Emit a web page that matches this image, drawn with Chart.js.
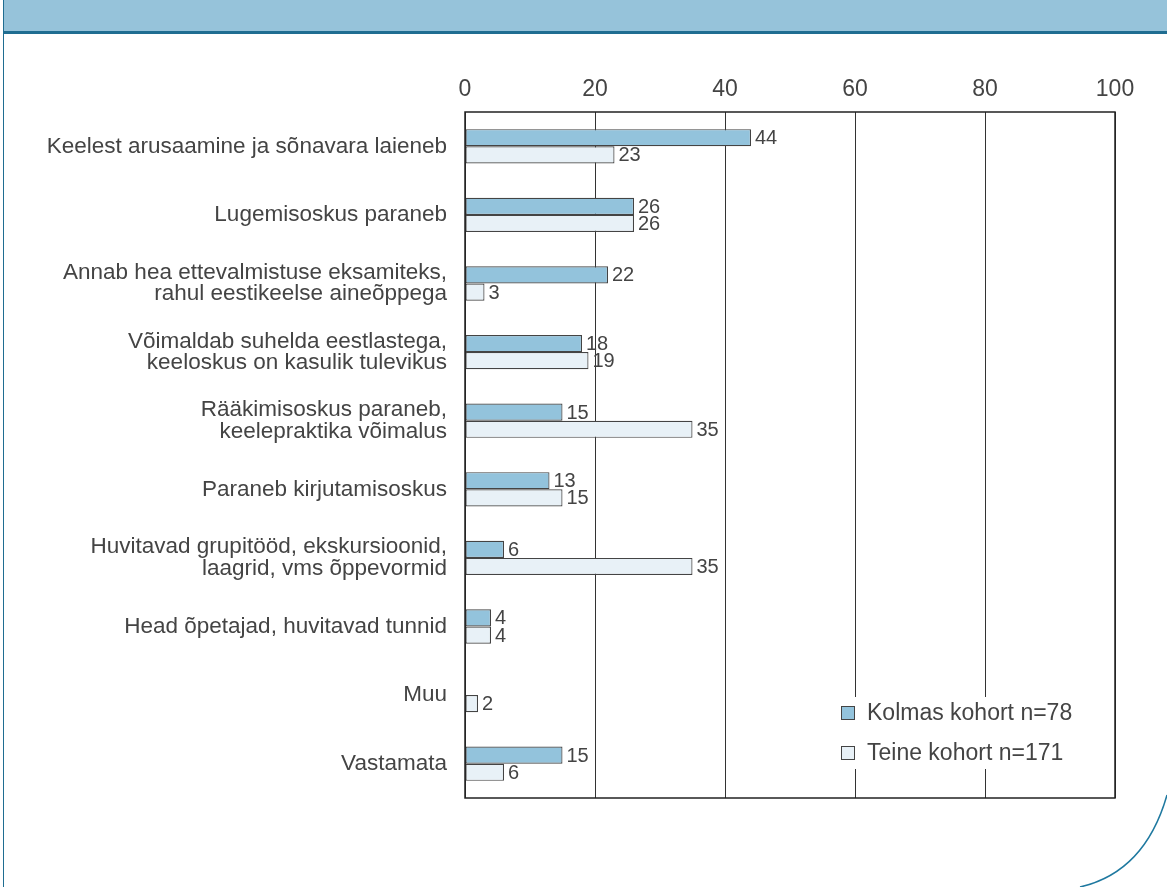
<!DOCTYPE html>
<html>
<head>
<meta charset="utf-8">
<script src="https://cdn.jsdelivr.net/npm/chart.js@4"></script>
<style>
  body { margin: 0; background: #fff; }
  #wrap { position: relative; width: 1167px; height: 887px; overflow: hidden; }
  #head { position: absolute; left: 4px; top: 0; width: 1163px; height: 31px; background: #96c3da; border-bottom: 3px solid #1f6d91; }
  #side { position: absolute; left: 3px; top: 0; width: 1px; height: 887px; background: #1f6d91; }
  #arc { position: absolute; left: 0; top: 0; }
  canvas { position: absolute; left: 0; top: 0; }
</style>
</head>
<body>
<div id="wrap">
  <div id="head"></div>
  <div id="side"></div>
  <svg id="arc" width="1167" height="887"><path d="M1167,795 Q1145,872 1080,887" fill="none" stroke="#1f79a0" stroke-width="1.5"/></svg>
  <canvas id="myChart" width="1167" height="887"></canvas>
</div>
<script>
var categories = [
  "Keelest arusaamine ja sõnavara laieneb",
  "Lugemisoskus paraneb",
  ["Annab hea ettevalmistuse eksamiteks,", "rahul eestikeelse aineõppega"],
  ["Võimaldab suhelda eestlastega,", "keeloskus on kasulik tulevikus"],
  ["Rääkimisoskus paraneb,", "keelepraktika võimalus"],
  "Paraneb kirjutamisoskus",
  ["Huvitavad grupitööd, ekskursioonid,", "laagrid, vms õppevormid"],
  "Head õpetajad, huvitavad tunnid",
  "Muu",
  "Vastamata"
];
var kolmas = [44, 26, 22, 18, 15, 13, 6, 4, null, 15];
var teine = [23, 26, 3, 19, 35, 15, 35, 4, 2, 6];
var seriesNames = ["Kolmas kohort n=78", "Teine kohort n=171"];
var xTicks = [0, 20, 40, 60, 80, 100];

var FONT = "'Liberation Sans', Arial, Helvetica, sans-serif";

var frame = {
  id: 'frame',
  afterDraw: function(chart) {
    var ctx = chart.ctx, a = chart.chartArea;
    ctx.save();
    ctx.strokeStyle = '#222';
    ctx.lineWidth = 1.5;
    ctx.strokeRect(a.left, a.top, a.right - a.left, a.bottom - a.top);

    // value labels
    ctx.fillStyle = '#444';
    ctx.font = '20px ' + FONT;
    ctx.textBaseline = 'middle';
    ctx.textAlign = 'left';
    chart.data.datasets.forEach(function(ds, i) {
      chart.getDatasetMeta(i).data.forEach(function(bar, j) {
        if (ds.data[j] == null) return;
        ctx.fillText(ds.data[j], bar.x + 4, bar.y + 1);
      });
    });

    // legend inside plot
    ctx.fillStyle = '#fff';
    ctx.fillRect(836, 697, 250, 72);
    ctx.font = '23px ' + FONT;
    chart.data.datasets.forEach(function(ds, i) {
      var y = 713 + i * 40;
      ctx.fillStyle = ds.backgroundColor;
      ctx.fillRect(841, y - 7, 14, 14);
      ctx.strokeStyle = '#444';
      ctx.lineWidth = 1;
      ctx.strokeRect(841.5, y - 6.5, 13, 13);
      ctx.fillStyle = '#444';
      ctx.fillText(ds.label, 867, y + 1);
    });
    ctx.restore();
  }
};

var ctx = document.getElementById("myChart");
var myChart = new Chart(ctx, {
  type: 'bar',
  data: {
    labels: categories,
    datasets: [
      {
        label: seriesNames[0],
        data: kolmas,
        backgroundColor: "#93c3dc",
        borderColor: "#444",
        borderWidth: 1.2,
        borderSkipped: false
      },
      {
        label: seriesNames[1],
        data: teine,
        backgroundColor: "#e8f1f7",
        borderColor: "#444",
        borderWidth: 1.2,
        borderSkipped: false
      }
    ]
  },
  options: {
    indexAxis: 'y',
    responsive: false,
    animation: false,
    layout: { padding: { left: 0, right: 52, top: 40, bottom: 89 } },
    datasets: { bar: { categoryPercentage: 0.5, barPercentage: 1.0 } },
    plugins: { legend: { display: false }, tooltip: { enabled: false } },
    scales: {
      x: {
        position: 'top',
        min: 0,
        max: 100,
        afterBuildTicks: function(scale) {
          scale.ticks = xTicks.map(function(v) { return { value: v }; });
        },
        afterFit: function(scale) { scale.height = 72; },
        grid: { color: '#333', lineWidth: 1, drawTicks: false },
        border: { display: false },
        ticks: { color: '#444', padding: 9, font: { family: FONT, size: 23 } }
      },
      y: {
        afterFit: function(scale) { scale.width = 465; },
        grid: { display: false, drawTicks: false },
        border: { display: false },
        ticks: { color: '#444', padding: 18, font: { family: FONT, size: 22.5, lineHeight: 0.95 } }
      }
    }
  },
  plugins: [frame]
});
</script>
</body>
</html>
